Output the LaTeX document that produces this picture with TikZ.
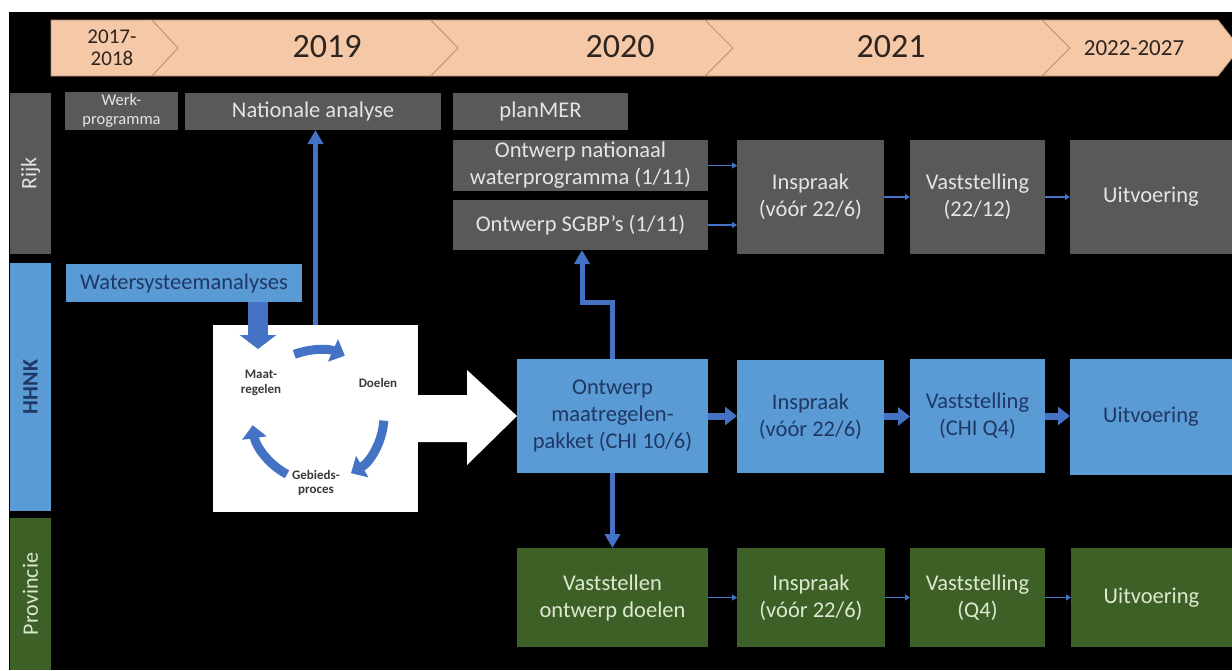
\documentclass[tikz,border=0pt]{standalone}
\usepackage{fontspec}
\setmainfont{Carlito}
\usetikzlibrary{arrows.meta,calc}
\definecolor{peach}{HTML}{F5C8A8}
\definecolor{peachline}{HTML}{B88B6A}
\definecolor{yeartxt}{HTML}{2E2520}
\definecolor{greybox}{HTML}{595959}
\definecolor{greytxt}{HTML}{E4E4E4}
\definecolor{bluebox}{HTML}{5B9BD5}
\definecolor{navytxt}{HTML}{1F3864}
\definecolor{greenbox}{HTML}{3D6026}
\definecolor{greentxt}{HTML}{DDE8D0}
\definecolor{arrowblue}{HTML}{4472C4}
\definecolor{circtxt}{HTML}{3A3A3A}
\newcommand\mkbox[7]{\node[#2, anchor=north west, minimum width={(#5-#3)*1pt}, minimum height={(#6-#4)*1pt}] (#1) at (#3,#4) {#7};}
\begin{document}
\begin{tikzpicture}[x=1pt,y=-1pt,
  base/.style={draw=none, inner sep=0pt, outer sep=0pt, align=center, font=\fontsize{22.5}{27}\selectfont},
  greyb/.style={base, fill=greybox, text=greytxt},
  blueb/.style={base, fill=bluebox, text=navytxt},
  greenb/.style={base, fill=greenbox, text=greentxt},
  whiteb/.style={base, fill=white},
  seg/.style={fill=peach, draw=peachline, line width=0.7pt, line join=miter},
  yeartext/.style={text=yeartxt, align=center, inner sep=0pt},
  lanetext/.style={rotate=90, inner sep=0pt, font=\fontsize{22}{27}\selectfont},
  circlbl/.style={text=circtxt, align=center, inner sep=0pt, font=\fontsize{13}{14.5}\selectfont\bfseries},
  thin/.style={draw=arrowblue, line width=1.3pt, -{Triangle[width=6pt,length=5pt]}},
  thick/.style={draw=arrowblue, line width=7pt, -{Triangle[width=18pt,length=12pt]}},
  mid/.style={draw=arrowblue, line width=5pt, line join=miter, -{Triangle[width=15pt,length=14pt]}},
  circarrow/.style={draw=arrowblue, line width=9pt, -{Triangle[width=24pt,length=13pt]}},
  fat/.style={draw=arrowblue, line width=20pt, -{Triangle[width=36pt,length=14pt]}}
]
\useasboundingbox (0,0) rectangle (1232,670);
\fill[black] (9,12) rectangle (1232,670);

% timeline band
\path[seg] (51,20) -- (152,20) -- (178,48) -- (152,76) -- (51,76) -- cycle;
\path[seg] (152,20) -- (431,20) -- (458,48) -- (431,76) -- (152,76) -- (178,48) -- cycle;
\path[seg] (431,20) -- (705,20) -- (733,48) -- (705,76) -- (431,76) -- (458,48) -- cycle;
\path[seg] (705,20) -- (1042,20) -- (1070,48) -- (1042,76) -- (705,76) -- (733,48) -- cycle;
\path[seg] (1042,20) -- (1218,20) -- (1240,48) -- (1218,76) -- (1042,76) -- (1070,48) -- cycle;
\node[yeartext, font=\fontsize{21}{22}\selectfont] (y1) at (112,48) {2017-\\2018};
\node[yeartext, font=\fontsize{34}{40}\selectfont] (y2) at (327,47) {2019};
\node[yeartext, font=\fontsize{34}{40}\selectfont] (y3) at (620,47) {2020};
\node[yeartext, font=\fontsize{34}{40}\selectfont] (y4) at (891,47) {2021};
\node[yeartext, font=\fontsize{23}{26}\selectfont] (y5) at (1134,48) {2022-2027};

% lanes
\mkbox{rijk}{greyb}{10}{93}{51}{254}{}
\mkbox{hhnk}{blueb}{10}{263}{51}{511}{}
\mkbox{prov}{greenb}{10}{518}{51}{670}{}
\node[lanetext, text=greytxt] (rijkl) at (rijk.center) {Rijk};
\node[lanetext, text=navytxt, font=\fontsize{22}{27}\selectfont\bfseries] (hhnkl) at (hhnk.center) {HHNK};
\node[lanetext, text=greentxt] (provl) at (prov.center) {Provincie};

% Rijk row
\mkbox{werk}{greyb, font=\fontsize{16.5}{19}\selectfont}{65}{92}{178}{130}{Werk-\\programma}
\mkbox{nat}{greyb}{185}{93}{441}{130}{Nationale analyse}
\mkbox{planmer}{greyb}{453}{93}{628}{130}{planMER}
\mkbox{onw}{greyb}{453}{140}{708}{191}{Ontwerp nationaal\\waterprogramma (1/11)}
\mkbox{sgbp}{greyb}{453}{200}{708}{250}{Ontwerp SGBP’s (1/11)}
\mkbox{rinspr}{greyb}{737}{140}{884}{254}{Inspraak\\(vóór 22/6)}
\mkbox{rvast}{greyb}{910}{140}{1045}{254}{Vaststelling\\(22/12)}
\mkbox{ruitv}{greyb}{1070}{140}{1232}{254}{Uitvoering}

% HHNK row
\mkbox{wsa}{blueb}{66}{264}{302}{302}{Watersysteemanalyses}
\mkbox{wb}{whiteb}{213}{325}{418}{512}{}
\mkbox{omp}{blueb}{517}{359}{708}{473}{Ontwerp\\maatregelen-\\pakket (CHI 10/6)}
\mkbox{hinspr}{blueb}{737}{360}{884}{473}{Inspraak\\(vóór 22/6)}
\mkbox{hvast}{blueb}{910}{359}{1045}{473}{Vaststelling\\(CHI Q4)}
\mkbox{huitv}{blueb}{1070}{359}{1232}{475}{Uitvoering}

% Provincie row
\mkbox{pvo}{greenb}{517}{548}{708}{647}{Vaststellen\\ontwerp doelen}
\mkbox{pinspr}{greenb}{737}{548}{885}{647}{Inspraak\\(vóór 22/6)}
\mkbox{pvast}{greenb}{910}{548}{1045}{647}{Vaststelling\\(Q4)}
\mkbox{puitv}{greenb}{1071}{548}{1232}{647}{Uitvoering}

% cycle inside white box
\node[circlbl] (maat) at (261,383) {Maat-\\regelen};
\node[circlbl] (doel) at (378,383) {Doelen};
\node[circlbl] (gebied) at (316,483) {Gebieds-\\proces};
\coordinate (cc) at (318,416);
\draw[circarrow] (cc) ++(-111:66) arc[start angle=-111, end angle=-66, radius=66];
\draw[circarrow] (cc) ++(4:66) arc[start angle=4, end angle=60, radius=66];
\draw[circarrow] (cc) ++(118:66) arc[start angle=118, end angle=172, radius=66];

% big white arrow
\coordinate (wa1) at (418,395);
\coordinate (wa2) at (467,395);
\coordinate (wa3) at (467,370);
\coordinate (wa5) at (467,465);
\coordinate (wa6) at (467,442);
\coordinate (wa7) at (418,442);
\fill[white] (wa1) -- (wa2) -- (wa3) -- (omp.west) -- (wa5) -- (wa6) -- (wa7) -- cycle;

% arrows
\coordinate (wsatip) at (258,349);
\draw[fat] (wsa.south -| wsatip) -- (wsatip);
\draw[mid] (wb.north) -- (wb.north |- nat.south);
\coordinate (bend) at (582,302);
\draw[mid] (omp.north) |- (bend) -- (bend |- sgbp.south);
\draw[mid] (omp.south) -- (pvo.north);

\draw[thin] (onw.east) -- (onw.east -| rinspr.west);
\draw[thin] (sgbp.east) -- (sgbp.east -| rinspr.west);
\draw[thin] (rinspr.east) -- (rinspr.east -| rvast.west);
\draw[thin] (rvast.east) -- (rvast.east -| ruitv.west);

\draw[thick] (omp.east) -- (omp.east -| hinspr.west);
\draw[thick] (hinspr.east) -- (hinspr.east -| hvast.west);
\draw[thick] (hvast.east) -- (hvast.east -| huitv.west);

\draw[thin] (pvo.east) -- (pvo.east -| pinspr.west);
\draw[thin] (pinspr.east) -- (pinspr.east -| pvast.west);
\draw[thin] (pvast.east) -- (pvast.east -| puitv.west);
\end{tikzpicture}
\end{document}
